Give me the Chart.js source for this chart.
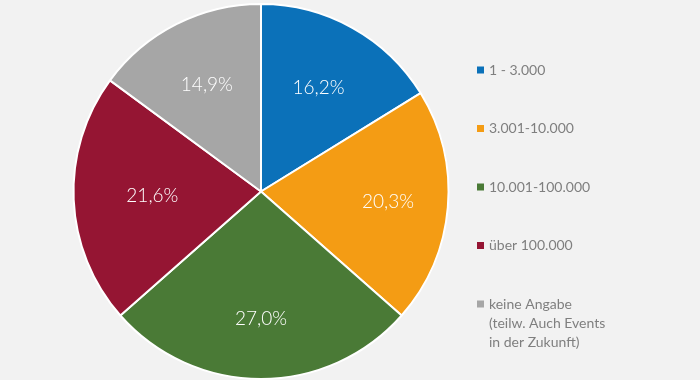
<!DOCTYPE html>
<html>
<head>
<meta charset="utf-8">
<script src="https://cdn.jsdelivr.net/npm/chart.js@4"></script>
<style>
  html, body { margin: 0; padding: 0; background: #f2f2f2; }
  #wrap { width: 700px; height: 380px; position: relative; }
</style>
</head>
<body>
<div id="wrap"><canvas id="pieChart"></canvas></div>
<script>
const categories = [
  "1 - 3.000",
  "3.001-10.000",
  "10.001-100.000",
  "über 100.000",
  ["keine Angabe", "(teilw. Auch Events", "in der Zukunft)"]
];
const shares = [16.2, 20.3, 27.0, 21.6, 14.9];
const colors = ["#0b71b9", "#f49c14", "#4a7a36", "#951533", "#a6a6a6"];

// percent text inside each slice (Excel "best fit" puts them at slightly different depths)
const labelDepth = [0.63, 0.68, 0.68, 0.58, 0.64];
const sliceLabels = {
  id: "sliceLabels",
  afterDatasetsDraw(chart) {
    const ctx = chart.ctx;
    const meta = chart.getDatasetMeta(0);
    ctx.save();
    ctx.fillStyle = "#ffffff";
    ctx.font = "300 19px Lato";
    ctx.textAlign = "center";
    ctx.textBaseline = "middle";
    meta.data.forEach((arc, i) => {
      const mid = (arc.startAngle + arc.endAngle) / 2;
      const r = arc.outerRadius * labelDepth[i];
      const x = arc.x + Math.cos(mid) * r;
      const y = arc.y + Math.sin(mid) * r;
      ctx.fillText(shares[i].toFixed(1).replace(".", ",") + "%", x, y);
    });
    ctx.restore();
  },
};

// legend on the right, drawn by hand so multi-line labels work
const sideLegend = {
  id: "sideLegend",
  afterDraw(chart) {
    const ctx = chart.ctx;
    ctx.save();
    ctx.font = "14px Lato";
    ctx.textBaseline = "middle";
    categories.forEach((cat, i) => {
      const y = 70 + i * 58.5;
      ctx.fillStyle = colors[i];
      ctx.fillRect(477, y - 3.5, 7, 7);
      ctx.fillStyle = "#7f7f7f";
      const lines = Array.isArray(cat) ? cat : [cat];
      lines.forEach((line, j) => ctx.fillText(line, 489, y + j * 19));
    });
    ctx.restore();
  },
};

new Chart(document.getElementById("pieChart").getContext("2d"), {
  type: "pie",
  data: {
    labels: categories,
    datasets: [
      {
        data: shares,
        backgroundColor: colors,
        borderColor: "#ffffff",
        borderWidth: 2,
      },
    ],
  },
  options: {
    responsive: true,
    maintainAspectRatio: false,
    animation: false,
    layout: { padding: { left: 72, right: 250, top: 3, bottom: -1 } },
    plugins: {
      legend: { display: false },
      tooltip: { enabled: false },
    },
  },
  plugins: [sliceLabels, sideLegend],
});
</script>
</body>
</html>
